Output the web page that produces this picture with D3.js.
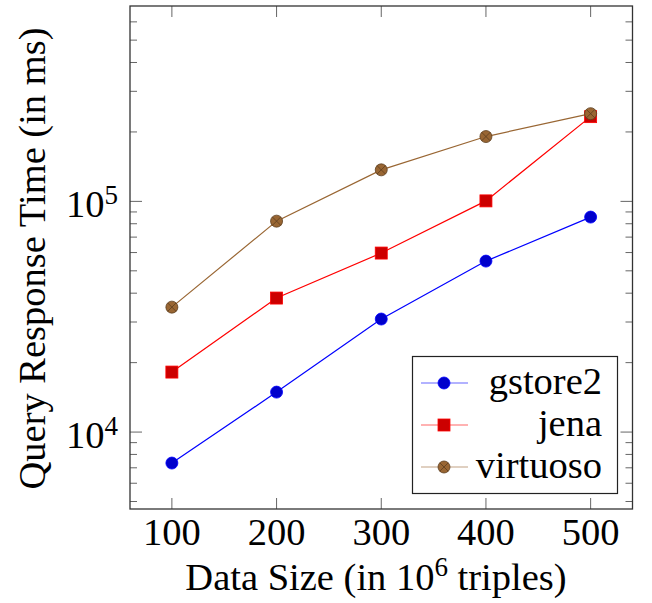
<!DOCTYPE html>
<html>
<head>
<meta charset="utf-8">
<script src="https://cdn.jsdelivr.net/npm/d3@7.9.0/dist/d3.min.js"></script>
<style>
  body { margin: 0; background: #fff; font-family: "Liberation Serif", serif; }
  svg { font-family: "Liberation Serif", serif; }
</style>
</head>
<body>
<svg id="chart" width="652" height="603" font-family="Liberation Serif"></svg>
<script>
const sizes = [100, 200, 300, 400, 500];
const gstore2 = [7340, 14900, 30900, 55100, 85500];
const jena = [18200, 38100, 59700, 100500, 233000];
const virtuoso = [34800, 82100, 137000, 191000, 240000];
const yMajorTicks = [1e4, 1e5];
const yMinorTicks = [5e3, 6e3, 7e3, 8e3, 9e3, 2e4, 3e4, 4e4, 5e4, 6e4, 7e4, 8e4, 9e4, 2e5, 3e5, 4e5, 5e5, 6e5];

const series = [
  { name: 'gstore2', values: gstore2, line: '#0000ff', fill: '#0000cc', mark: 'circle' },
  { name: 'jena', values: jena, line: '#ff0000', fill: '#cc0000', mark: 'square' },
  { name: 'virtuoso', values: virtuoso, line: '#996633', fill: '#996633', mark: 'otimes' }
];

const FS = 38.5, SUP = 27;
const plotL = 130, plotR = 632.5, plotT = 6, plotB = 509;

const svg = d3.select('#chart');

function txt(sel) {
  return sel.attr('font-family', 'Liberation Serif').attr('fill', '#000');
}

const x = d3.scaleLinear().domain([60, 540]).range([plotL, plotR]);
const y = d3.scaleLog().domain([4640, 703000]).range([plotB, plotT]);

// ticks, all pointing inward
const ticks = svg.append('g').attr('stroke', '#666').attr('stroke-width', 1);
sizes.forEach(v => {
  ticks.append('line').attr('x1', x(v)).attr('x2', x(v)).attr('y1', plotB).attr('y2', plotB - 11);
  ticks.append('line').attr('x1', x(v)).attr('x2', x(v)).attr('y1', plotT).attr('y2', plotT + 11);
});
yMajorTicks.forEach(v => {
  ticks.append('line').attr('x1', plotL).attr('x2', plotL + 12).attr('y1', y(v)).attr('y2', y(v));
  ticks.append('line').attr('x1', plotR).attr('x2', plotR - 12).attr('y1', y(v)).attr('y2', y(v));
});
yMinorTicks.forEach(v => {
  ticks.append('line').attr('x1', plotL).attr('x2', plotL + 7).attr('y1', y(v)).attr('y2', y(v));
  ticks.append('line').attr('x1', plotR).attr('x2', plotR - 7).attr('y1', y(v)).attr('y2', y(v));
});

svg.append('rect')
  .attr('x', plotL).attr('y', plotT)
  .attr('width', plotR - plotL).attr('height', plotB - plotT)
  .attr('fill', 'none').attr('stroke', '#333').attr('stroke-width', 1.3);

// x tick labels
txt(svg.append('g').selectAll('text').data(sizes).join('text'))
  .attr('x', d => x(d)).attr('y', 545)
  .attr('text-anchor', 'middle').attr('font-size', FS)
  .text(d => d);

// y tick labels
const yl = txt(svg.append('g').selectAll('text').data(yMajorTicks).join('text'))
  .attr('x', 118).attr('y', d => y(d) + 16)
  .attr('text-anchor', 'end').attr('font-size', FS);
yl.append('tspan').text('10');
yl.append('tspan').attr('font-size', SUP).attr('dy', -13).text(d => Math.round(Math.log10(d)));

// axis titles
const xt = txt(svg.append('text')).attr('x', 376).attr('y', 590)
  .attr('text-anchor', 'middle').attr('font-size', FS);
xt.append('tspan').text('Data Size (in 10');
xt.append('tspan').attr('font-size', SUP).attr('dy', -14).text('6');
xt.append('tspan').attr('dy', 14).text(' triples)');

txt(svg.append('text'))
  .attr('transform', 'translate(45,258.5) rotate(-90)')
  .attr('text-anchor', 'middle').attr('font-size', FS)
  .text('Query Response Time (in ms)');

function drawMark(g, type, cx, cy, s) {
  if (type === 'circle') {
    g.append('circle').attr('cx', cx).attr('cy', cy).attr('r', 6)
      .attr('fill', s.fill).attr('stroke', s.line).attr('stroke-width', 0.8);
  } else if (type === 'square') {
    g.append('rect').attr('x', cx - 6).attr('y', cy - 6).attr('width', 12).attr('height', 12)
      .attr('fill', s.fill).attr('stroke', s.line).attr('stroke-width', 0.8);
  } else {
    g.append('circle').attr('cx', cx).attr('cy', cy).attr('r', 6)
      .attr('fill', s.fill).attr('stroke', '#5c3d1e').attr('stroke-width', 0.8);
    const d = 6 / Math.SQRT2;
    g.append('path')
      .attr('d', `M${cx - d},${cy - d}L${cx + d},${cy + d}M${cx - d},${cy + d}L${cx + d},${cy - d}`)
      .attr('stroke', '#5c3d1e').attr('stroke-width', 0.8);
  }
}

const line = d3.line().x((d, i) => x(sizes[i])).y(d => y(d));

series.forEach(s => {
  const g = svg.append('g');
  g.append('path').attr('d', line(s.values))
    .attr('fill', 'none').attr('stroke', s.line).attr('stroke-width', 1.2);
  s.values.forEach((v, i) => drawMark(g, s.mark, x(sizes[i]), y(v), s));
});

// legend
const legend = svg.append('g');
legend.append('rect').attr('x', 412.5).attr('y', 356.5).attr('width', 205).attr('height', 137)
  .attr('fill', '#fff').attr('stroke', '#222').attr('stroke-width', 1.2);
series.forEach((s, i) => {
  const ly = 383 + i * 42;
  legend.append('line').attr('x1', 421).attr('x2', 468).attr('y1', ly).attr('y2', ly)
    .attr('stroke', s.line).attr('stroke-width', 1.2).attr('stroke-opacity', 0.6);
  drawMark(legend, s.mark, 444, ly, s);
  txt(legend.append('text')).attr('x', 602).attr('y', ly + 10.5)
    .attr('text-anchor', 'end').attr('font-size', FS)
    .text(s.name);
});
</script>
</body>
</html>
